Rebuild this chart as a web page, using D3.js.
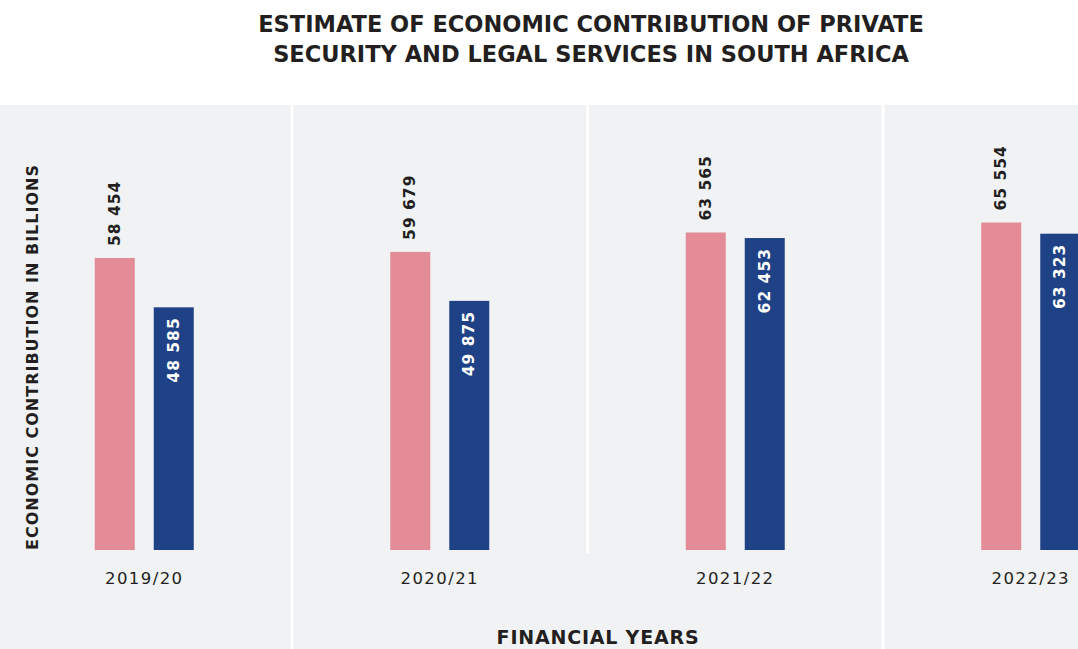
<!DOCTYPE html>
<html>
<head>
<meta charset="utf-8">
<script src="https://cdn.jsdelivr.net/npm/d3@7"></script>
<style>
  body { margin: 0; background: #fff; }
  svg { display: block; font-family: "DejaVu Sans", sans-serif; }
</style>
</head>
<body>
<div id="app"></div>
<script>
// data
const years = ["2019/20", "2020/21", "2021/22", "2022/23"];
const series = ["private security", "legal services"];
const privateSecurity = [58454, 59679, 63565, 65554];
const legalServices = [48585, 49875, 62453, 63323];
const titleLines = [
  "ESTIMATE OF ECONOMIC CONTRIBUTION OF PRIVATE",
  "SECURITY AND LEGAL SERVICES IN SOUTH AFRICA"
];

const w = 1078;
const h = 649;
const colors = { "private security": "#e38b97", "legal services": "#1f4287" };
const fmt = (v) => d3.format(",")(v).replace(",", " ");

const rows = years.map((y, i) => ({
  year: y,
  values: [
    { key: series[0], value: privateSecurity[i] },
    { key: series[1], value: legalServices[i] }
  ]
}));

const svg = d3.select("#app").append("svg").attr("width", w).attr("height", h);

// panel background
svg.append("rect")
  .attr("x", 0).attr("y", 105)
  .attr("width", w).attr("height", h - 105)
  .attr("fill", "#f1f2f4");

// title
svg.append("text")
  .attr("text-anchor", "middle")
  .attr("font-weight", 700)
  .attr("font-size", 22.5)
  .attr("fill", "#231f20")
  .selectAll("tspan")
  .data(titleLines)
  .enter()
  .append("tspan")
  .attr("x", 591)
  .attr("y", (d, i) => 32 + i * 30)
  .text((d) => d);

// scales
const x = d3.scaleBand().domain(years).range([-3.5, 1178.5]);
const xSub = d3.scaleBand().domain(series).range([-49.5, 49.5]).paddingInner(19 / 59);
const y = d3.scaleLinear().domain([0, 60000]).range([550, 250.3]);

// separators between the years
svg.selectAll("line.sep")
  .data(years.slice(1))
  .enter()
  .append("line")
  .attr("class", "sep")
  .attr("x1", (d) => x(d))
  .attr("x2", (d) => x(d))
  .attr("y1", 105)
  .attr("y2", (d, i) => (i === 1 ? 553 : h))
  .attr("stroke", "#fff")
  .attr("stroke-width", 3);

const groups = svg.selectAll("g.year")
  .data(rows)
  .enter()
  .append("g")
  .attr("class", "year")
  .attr("transform", (d) => `translate(${x(d.year) + x.bandwidth() / 2},0)`);

groups.selectAll("rect")
  .data((d) => d.values)
  .enter()
  .append("rect")
  .attr("x", (d) => xSub(d.key))
  .attr("y", (d) => y(d.value))
  .attr("width", xSub.bandwidth())
  .attr("height", (d) => y(0) - y(d.value))
  .attr("fill", (d) => colors[d.key]);

// value labels (pink above bar, navy inside the bar)
groups.selectAll("text.val")
  .data((d) => d.values)
  .enter()
  .append("text")
  .attr("class", "val")
  .attr("transform", (d, i) => {
    const cx = xSub(d.key) + xSub.bandwidth() / 2;
    const cy = i === 0 ? y(d.value) - 12 : y(d.value) + 10;
    return `translate(${cx},${cy}) rotate(-90)`;
  })
  .attr("text-anchor", (d, i) => (i === 0 ? "start" : "end"))
  .attr("dominant-baseline", "central")
  .attr("font-size", 15.5)
  .attr("font-weight", 700)
  .attr("letter-spacing", 1)
  .attr("fill", (d, i) => (i === 0 ? "#231f20" : "#fff"))
  .text((d) => fmt(d.value));

// category labels
groups.append("text")
  .attr("y", 584)
  .attr("text-anchor", "middle")
  .attr("font-size", 16.5)
  .attr("letter-spacing", 1.4)
  .attr("fill", "#231f20")
  .text((d) => d.year);

// axis titles
svg.append("text")
  .attr("transform", "translate(37.5,357) rotate(-90)")
  .attr("text-anchor", "middle")
  .attr("font-size", 16)
  .attr("font-weight", 700)
  .attr("letter-spacing", 1)
  .attr("fill", "#231f20")
  .text("ECONOMIC CONTRIBUTION IN BILLIONS");

svg.append("text")
  .attr("x", 598)
  .attr("y", 644)
  .attr("text-anchor", "middle")
  .attr("font-size", 19)
  .attr("font-weight", 700)
  .attr("letter-spacing", 0.8)
  .attr("fill", "#231f20")
  .text("FINANCIAL YEARS");
</script>
</body>
</html>
